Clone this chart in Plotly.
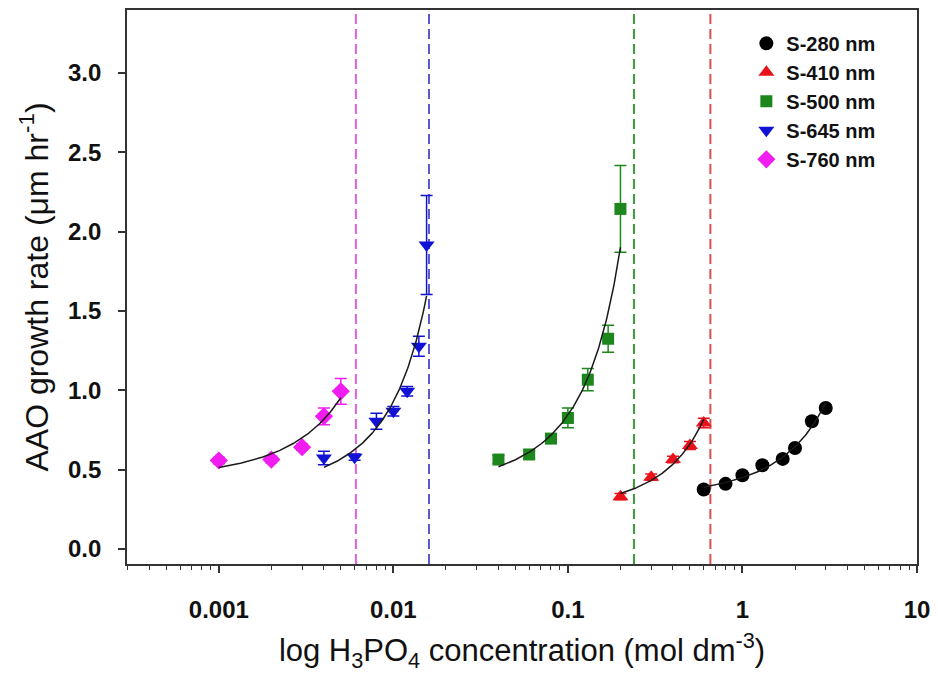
import numpy as np
import plotly.graph_objects as go

# ---- data ----
names = ["S-280 nm", "S-410 nm", "S-500 nm", "S-645 nm", "S-760 nm"]

x_280 = [0.6, 0.8, 1.0, 1.3, 1.7, 2.0, 2.5, 3.0]
y_280 = [0.375, 0.411, 0.465, 0.528, 0.568, 0.637, 0.805, 0.889]
e_280 = [0.015, 0.015, 0.015, 0.015, 0.015, 0.015, 0.02, 0.015]

x_410 = [0.2, 0.3, 0.4, 0.5, 0.6]
y_410 = [0.330, 0.453, 0.564, 0.652, 0.794]
e_410 = [0.02, 0.02, 0.02, 0.025, 0.03]

x_500 = [0.04, 0.06, 0.08, 0.1, 0.13, 0.17, 0.2]
y_500 = [0.564, 0.596, 0.696, 0.826, 1.067, 1.325, 2.143]
e_500 = [0.025, 0.025, 0.03, 0.062, 0.07, 0.085, 0.273]

x_645 = [0.004, 0.006, 0.008, 0.01, 0.012, 0.014, 0.0155]
y_645 = [0.574, 0.579, 0.805, 0.868, 0.994, 1.277, 1.916]
e_645 = [0.042, 0.02, 0.05, 0.03, 0.03, 0.063, 0.312]

x_760 = [0.001, 0.002, 0.003, 0.004, 0.005]
y_760 = [0.558, 0.564, 0.642, 0.836, 0.994]
e_760 = [0.02, 0.02, 0.02, 0.052, 0.081]

limit_conc = [0.0061, 0.0160, 0.239, 0.655]  # vertical dashed lines (760, 645, 500, 410)

x_tickvals = [0.001, 0.01, 0.1, 1, 10]
x_ticktext = ["0.001", "0.01", "0.1", "1", "10"]
y_tickvals = [0, 0.5, 1.0, 1.5, 2.0, 2.5, 3.0]

colors = ["#000000", "#e8121a", "#1d861d", "#1212d4", "#f01cf0"]
symbols = ["circle", "triangle-up", "square", "triangle-down", "diamond"]
sizes = [14, 14, 12, 14, 14]
line_colors = ["#e060e0", "#5a5ad0", "#3a9a3a", "#d85050"]

xs = [x_280, x_410, x_500, x_645, x_760]
ys = [y_280, y_410, y_500, y_645, y_760]
es = [e_280, e_410, e_500, e_645, e_760]

fig = go.Figure()

for i, xv in enumerate(limit_conc):
    fig.add_shape(type="line", xref="x", yref="paper", x0=xv, x1=xv, y0=0, y1=1,
                  line=dict(color=line_colors[i], width=2, dash="10px,5px"), layer="below")

for i in range(5):
    fig.add_trace(go.Scatter(
        x=xs[i], y=ys[i], mode="markers", name=names[i],
        marker=dict(symbol=symbols[i], size=sizes[i], color=colors[i], line=dict(width=0)),
        error_y=dict(type="data", array=es[i], color=colors[i], thickness=1.5, width=6),
    ))

# exponential regression (y = a*exp(b*x)) of each series, drawn over its data span
for i in range(5):
    xa = np.array(xs[i]); ya = np.array(ys[i])
    b, lna = np.polyfit(xa, np.log(ya), 1)
    xf = np.geomspace(xa.min(), xa.max(), 120)
    yf = np.exp(lna + b * xf)
    fig.add_trace(go.Scatter(x=xf, y=yf, mode="lines", showlegend=False,
                             line=dict(color="#1a1a1a", width=1.5), hoverinfo="skip"))

axis_col = "#333333"
fig.update_layout(
    width=938, height=679,
    margin=dict(l=127, r=19, t=8, b=115),
    plot_bgcolor="white", paper_bgcolor="white",
    font=dict(family="Liberation Sans, Arial, sans-serif", color="#111111"),
    showlegend=True,
    legend=dict(x=0.784, y=0.975, xanchor="left", yanchor="top",
                font=dict(size=20, family="Liberation Sans, Arial, sans-serif", weight="bold"),
                bgcolor="rgba(0,0,0,0)", itemwidth=30, tracegroupgap=0),
    xaxis=dict(
        type="log", range=[-3.526, 1.0],
        tickvals=x_tickvals, ticktext=x_ticktext,
        ticks="outside", ticklen=7, tickwidth=1.5, tickcolor=axis_col,
        minor=dict(ticks="outside", ticklen=4, tickwidth=1, tickcolor=axis_col,
                   tickvals=[m * 10.0 ** k for k in range(-4, 1) for m in range(2, 10)]),
        showline=True, linecolor=axis_col, linewidth=1.8, mirror=True,
        showgrid=False, zeroline=False,
        ticklabelstandoff=16,
        tickfont=dict(size=24, weight="bold"),
        title=dict(text="log H<sub>3</sub>PO<sub>4</sub> concentration (mol dm<sup>-3</sup>)",
                   font=dict(size=31), standoff=18),
    ),
    yaxis=dict(
        range=[-0.094, 3.396],
        tickvals=y_tickvals, tickformat=".1f",
        ticks="outside", ticklen=7, tickwidth=1.5, tickcolor=axis_col,
        showline=True, linecolor=axis_col, linewidth=1.8, mirror=True,
        showgrid=False, zeroline=False,
        ticklabelstandoff=12,
        tickfont=dict(size=24, weight="bold"),
        title=dict(text="AAO growth rate (μm hr<sup>-1</sup>)", font=dict(size=32), standoff=10),
    ),
)

fig.write_html("out.html")
